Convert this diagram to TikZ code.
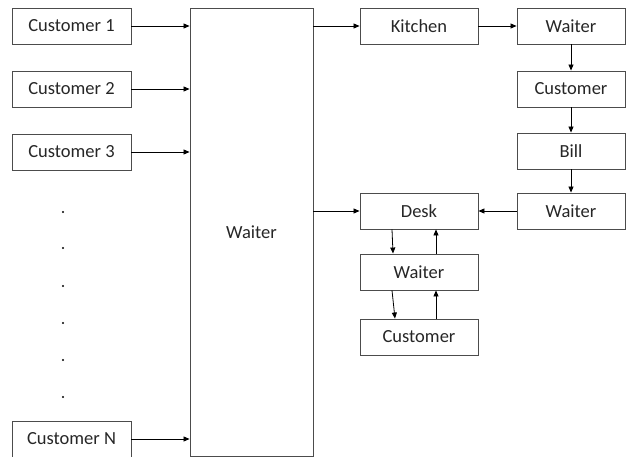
\documentclass[tikz,border=0pt]{standalone}
\usepackage{fontspec}
\setmainfont{Carlito}
\usetikzlibrary{arrows.meta,calc}
\begin{document}
\begin{tikzpicture}[x=1pt,y=-1pt,
  box/.style={draw=black!70,line width=0.9pt,rectangle,inner sep=0pt,font=\fontsize{18.5}{20}\selectfont,text=black!85},
  arr/.style={draw=black,line width=0.8pt,-{Triangle[length=6pt,width=5pt]}},
  dotn/.style={circle,fill=black,inner sep=0pt,minimum size=2.2pt}]
\useasboundingbox (0,0) rectangle (626,457);
\node[box,minimum width=119,minimum height=36] (c1) at (71.5,26) {Customer 1};
\node[box,minimum width=119,minimum height=36] (c2) at (71.5,89) {Customer 2};
\node[box,minimum width=119,minimum height=36] (c3) at (71.5,152) {Customer 3};
\node[box,minimum width=119,minimum height=36] (cn) at (71.5,439) {Customer N};
\node[box,minimum width=123,minimum height=448] (big) at (251.5,232) {Waiter};
\node[box,minimum width=118,minimum height=36] (kit) at (419,26) {Kitchen};
\node[box,minimum width=108,minimum height=36] (w2) at (571,26) {Waiter};
\node[box,minimum width=108,minimum height=36] (cu) at (571,89) {Customer};
\node[box,minimum width=108,minimum height=36] (bill) at (571,151) {Bill};
\node[box,minimum width=108,minimum height=36] (w3) at (571,211) {Waiter};
\node[box,minimum width=118,minimum height=36] (desk) at (419,211) {Desk};
\node[box,minimum width=118,minimum height=36] (w4) at (419,272) {Waiter};
\node[box,minimum width=118,minimum height=36] (cu2) at (419,337) {Customer};
\foreach \i/\y in {1/212,2/248,3/286,4/323,5/360,6/397}
  \node[dotn] (d\i) at (63,\y) {};
\draw[arr] (c1) -- (c1 -| big.west);
\draw[arr] (c2) -- (c2 -| big.west);
\draw[arr] (c3) -- (c3 -| big.west);
\draw[arr] (cn) -- (cn -| big.west);
\draw[arr] (big.east |- kit) -- (kit);
\draw[arr] (kit) -- (w2);
\draw[arr] (w2) -- (cu);
\draw[arr] (cu) -- (bill);
\draw[arr] (bill) -- (w3);
\draw[arr] (w3) -- (desk);
\draw[arr] (big.east |- desk) -- (desk);
\draw[arr] ($(desk.south)+(-27,0)$) -- ($(w4.north)+(-26,0)$);
\draw[arr] ($(w4.north)+(17,0)$) -- ($(desk.south)+(17,0)$);
\draw[arr] ($(w4.south)+(-27,0)$) -- ($(cu2.north)+(-24,0)$);
\draw[arr] ($(cu2.north)+(17,0)$) -- ($(w4.south)+(17,0)$);
\end{tikzpicture}
\end{document}
